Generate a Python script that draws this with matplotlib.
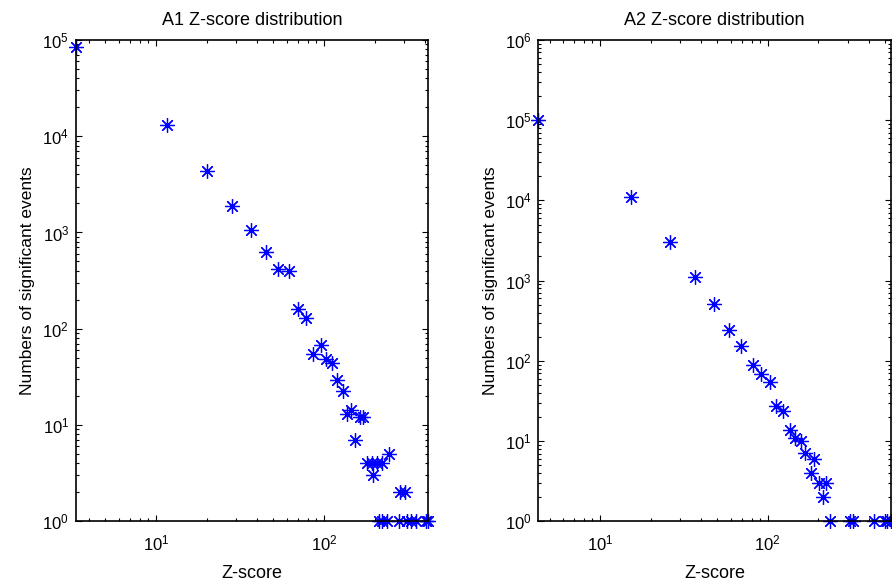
import numpy as np
import matplotlib
matplotlib.use('Agg')
import matplotlib.pyplot as plt

plt.rcParams['font.family'] = ['Liberation Sans', 'DejaVu Sans']
plt.rcParams['mathtext.fontset'] = 'custom'
plt.rcParams['mathtext.rm'] = 'Liberation Sans'
plt.rcParams['mathtext.it'] = 'Liberation Sans'

# A1 data (Z-score, number of significant events)
a1_z = [3.34, 11.7, 20.1, 28.3, 36.6, 45.4, 53.5, 61.6, 70, 78.5, 86.4, 95.5,
        102.8, 111.6, 120, 129, 136.4, 144, 152.2, 163.8, 171.5, 181, 193, 195,
        206, 223, 245, 283, 302,
        213, 222, 236, 278, 313, 330, 353, 405, 416]
a1_n = [85000, 13150, 4340, 1890, 1060, 630, 414, 395, 160, 130, 54.8, 67.4,
        48.3, 43.9, 29.4, 22.6, 13, 14.4, 7, 12, 12, 4, 4, 3,
        4, 4, 5, 2, 2,
        1, 1, 1, 1, 1, 1, 1, 1, 1]

# A2 data
a2_z = [4.28, 15.2, 26.1, 37, 48, 58.5, 69, 81.4, 91.6, 103, 112, 124, 135.8,
        146, 157, 167.6, 189, 180, 203, 223, 213,
        235, 309, 321, 430, 498, 516, 541]
a2_n = [100000, 11000, 2990, 1097, 515, 244, 154, 89, 69, 54.4, 27.5, 24, 13.9,
        11, 10, 7.1, 6, 4, 3, 3, 2,
        1, 1, 1, 1, 1, 1, 1]

fig = plt.figure(figsize=(8.92, 5.86), dpi=100)
ax1 = fig.add_axes([0.0852, 0.1104, 0.3946, 0.8215])
ax2 = fig.add_axes([0.6035, 0.1104, 0.3950, 0.8215])

star = (8, 2, 0)
panels = [(ax1, a1_z, a1_n, 'A1 Z-score distribution', (3.34, 416), (1, 1e5)),
          (ax2, a2_z, a2_n, 'A2 Z-score distribution', (4.28, 541), (1, 1e6))]

for ax, z, n, title, xl, yl in panels:
    ax.plot(z, n, linestyle='none', marker=star, markersize=10.5,
            markeredgewidth=0.9, color='#0000ff', clip_on=False)
    ax.set_xscale('log')
    ax.set_yscale('log')
    ax.set_xlim(xl)
    ax.set_ylim(yl)
    ax.set_title(title, fontsize=13, pad=11)
    ax.set_xlabel('Z-score', fontsize=13, labelpad=8)
    ax.set_ylabel('Numbers of significant events', fontsize=12.5, labelpad=5)
    ax.tick_params(which='both', direction='in', top=True, right=True,
                   labelsize=12, width=0.8)
    ax.tick_params(which='major', length=4)
    ax.tick_params(axis='x', which='major', pad=9)
    ax.tick_params(axis='y', which='major', pad=5)
    ax.tick_params(which='minor', length=2)
    for s in ax.spines.values():
        s.set_linewidth(1.2)

fig.savefig('out.png', dpi=100)
